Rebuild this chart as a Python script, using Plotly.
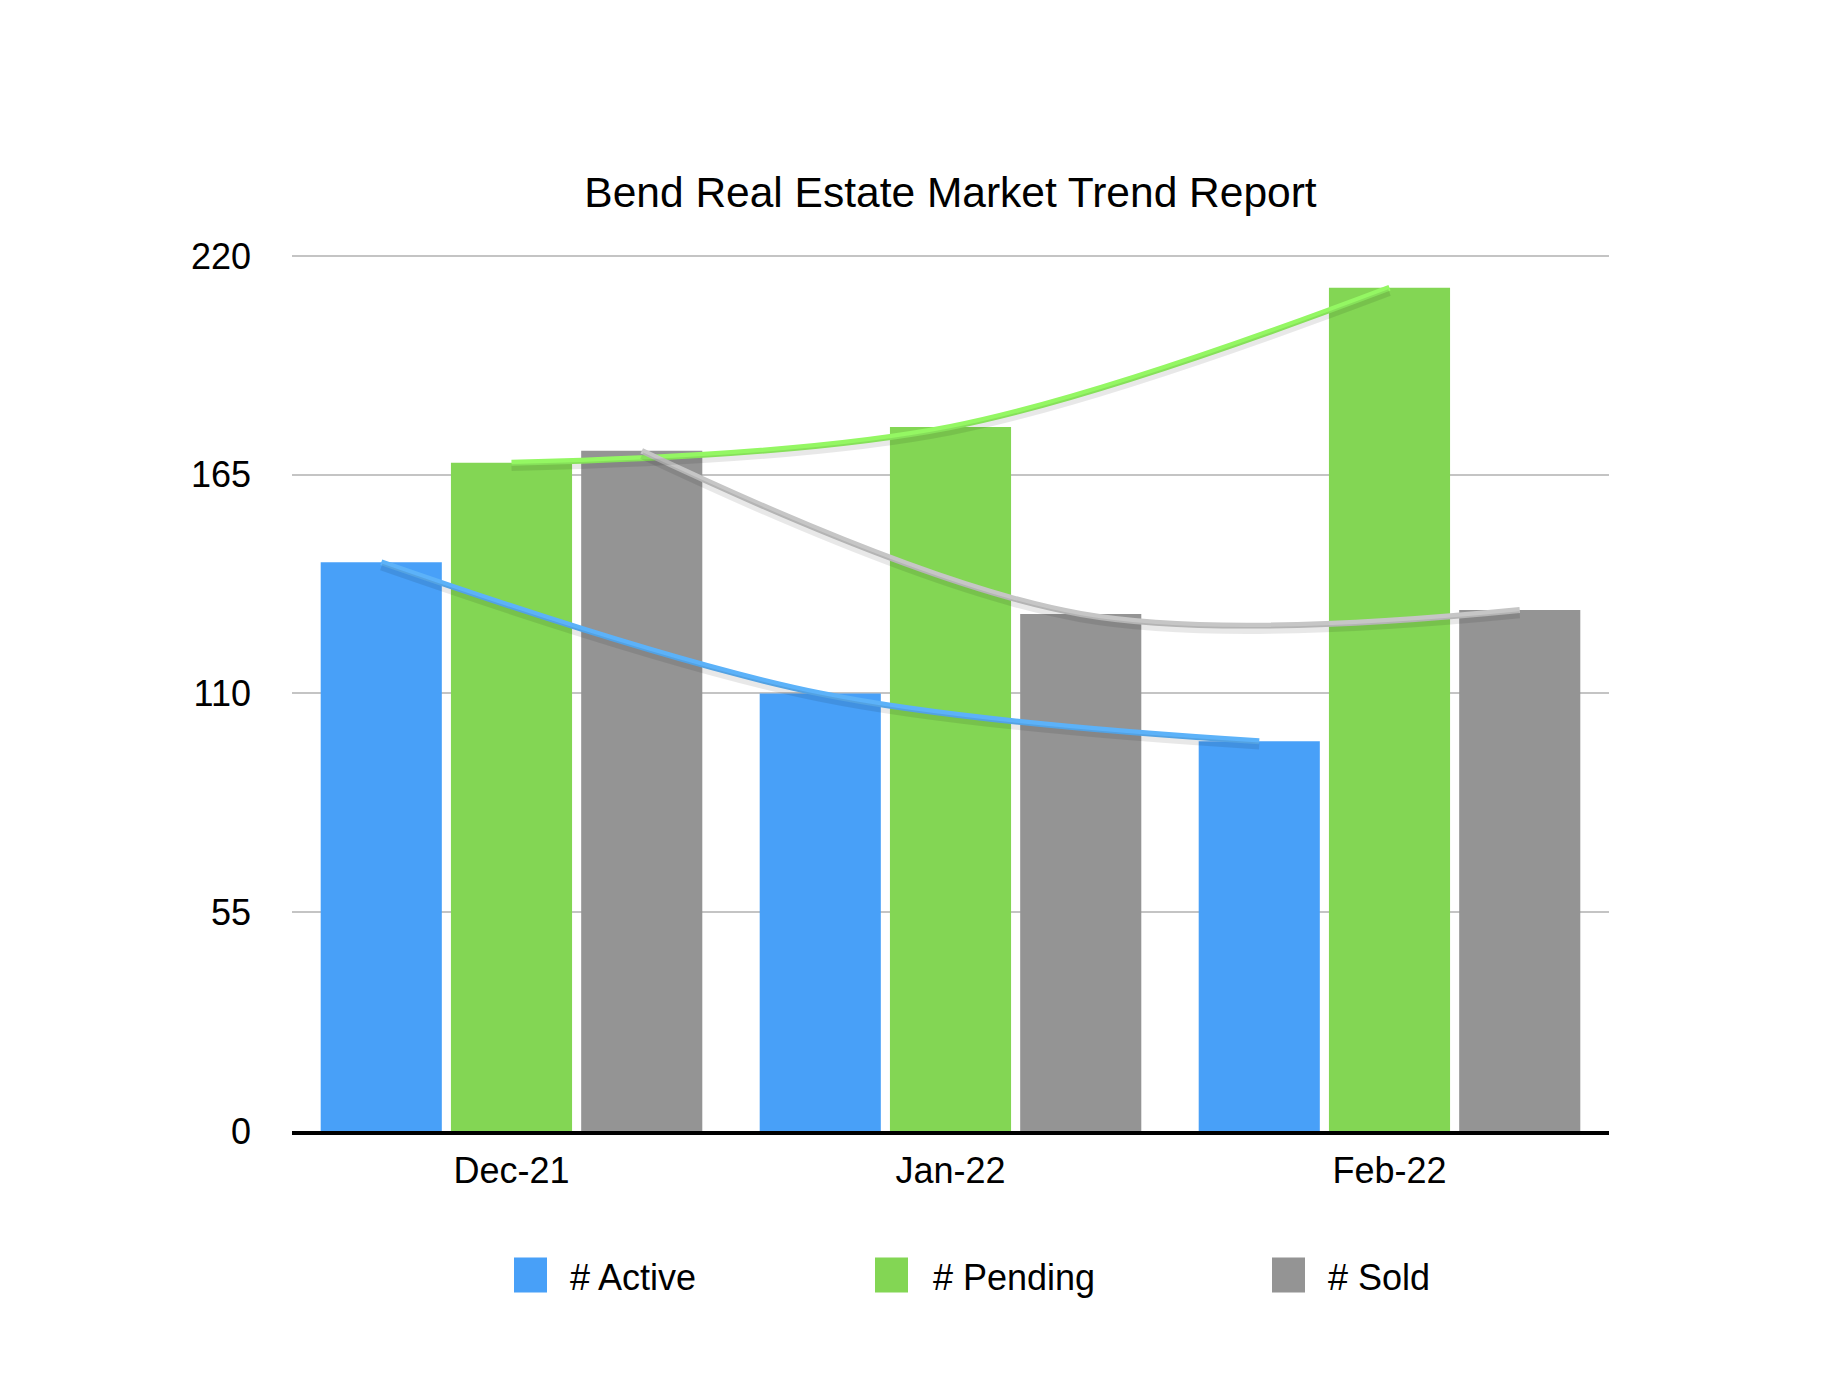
import plotly.graph_objects as go

# -------------------------
# Data
# -------------------------
months = ["Dec-21", "Jan-22", "Feb-22"]
active = [143, 110, 98]
pending = [168, 177, 212]
sold = [171, 130, 131]

series_names = ["# Active", "# Pending", "# Sold"]
bar_colors = ["#48A0F8", "#83D654", "#949494"]
trend_colors = ["#5CB2F9", "#94F763", "#C6C6C6"]

y_ticks = [0, 55, 110, 165, 220]

# -------------------------
# Layout numbers (pixels, figure coords; page adds an 8px body margin)
# -------------------------
W, H = 1826, 1376
L, R, T, B = 284, 225, 244, 252.5
PW = W - L - R
PH = H - T - B
FONT = "Liberation Sans, Arial, Helvetica, sans-serif"
OFF = 8
Y_MAX = 221
SHADOW_SHIFT = 1.2  # axis units the shadow axis is shifted by (~5px down)


def px_x(px):
    return (px - OFF - L) / PW


def px_y(py):
    return (H - B - (py - OFF)) / PH


fig = go.Figure()

# bars
for name, vals, col in zip(series_names, [active, pending, sold], bar_colors):
    fig.add_trace(go.Bar(
        x=months, y=vals, name=name,
        marker=dict(color=col, line=dict(width=0)),
        offsetgroup=name,
        showlegend=False,
    ))

# soft drop shadow under the trend lines (same data on a shifted overlay axis)
for name, vals in zip(series_names, [active, pending, sold]):
    fig.add_trace(go.Scatter(
        x=months, y=vals, mode="lines", yaxis="y2",
        line=dict(color="rgba(0,0,0,0.09)", width=7, shape="spline", smoothing=1.0),
        offsetgroup=name,
        showlegend=False,
        hoverinfo="skip",
    ))

# smooth trend lines through each series
for name, vals, col in zip(series_names, [active, pending, sold], trend_colors):
    fig.add_trace(go.Scatter(
        x=months, y=vals, mode="lines",
        line=dict(color=col, width=6, shape="spline", smoothing=1.0),
        offsetgroup=name,
        showlegend=False,
        hoverinfo="skip",
    ))

# custom legend (big squares)
legend_sq_x = [514, 875, 1272]
legend_txt_x = [568, 931, 1326]
for name, col, sx, tx in zip(series_names, bar_colors, legend_sq_x, legend_txt_x):
    fig.add_shape(
        type="rect", xref="paper", yref="paper",
        x0=px_x(sx), x1=px_x(sx + 33),
        y0=px_y(1293), y1=px_y(1258),
        fillcolor=col, line=dict(width=0),
    )
    fig.add_annotation(
        text=name, xref="paper", yref="paper",
        x=px_x(tx), y=px_y(1278),
        xanchor="left", yanchor="middle", showarrow=False,
        font=dict(family=FONT, size=36, color="#000000"),
    )

fig.update_layout(
    width=W, height=H,
    margin=dict(l=L, r=R, t=T, b=B),
    paper_bgcolor="white",
    plot_bgcolor="white",
    barmode="group",
    bargap=0.11,
    bargroupgap=0.07,
    scattermode="group",
    title=dict(
        text="Bend Real Estate Market Trend Report",
        x=0.5, xref="paper", xanchor="center",
        y=1 - (192 - OFF) / H, yref="container", yanchor="middle",
        font=dict(family=FONT, size=42.5, color="#000000"),
    ),
    font=dict(family=FONT, size=36, color="#000000"),
    yaxis2=dict(
        overlaying="y", range=[SHADOW_SHIFT, Y_MAX + SHADOW_SHIFT],
        visible=False, showgrid=False, zeroline=False,
    ),
)

fig.update_yaxes(
    range=[0, Y_MAX],
    tickvals=y_ticks,
    ticktext=[str(v) for v in y_ticks],
    showgrid=True, gridcolor="#C4C4C4", gridwidth=1.5,
    zeroline=False, showline=False,
    ticks="", ticklabelstandoff=40,
    tickfont=dict(family=FONT, size=36, color="#000000"),
    selector=dict(overlaying=None),
)

fig.update_xaxes(
    showline=True, linecolor="#000000", linewidth=4,
    showgrid=False, ticks="", ticklabelstandoff=5,
    tickfont=dict(family=FONT, size=36, color="#000000"),
)

fig.write_html("out.html")
